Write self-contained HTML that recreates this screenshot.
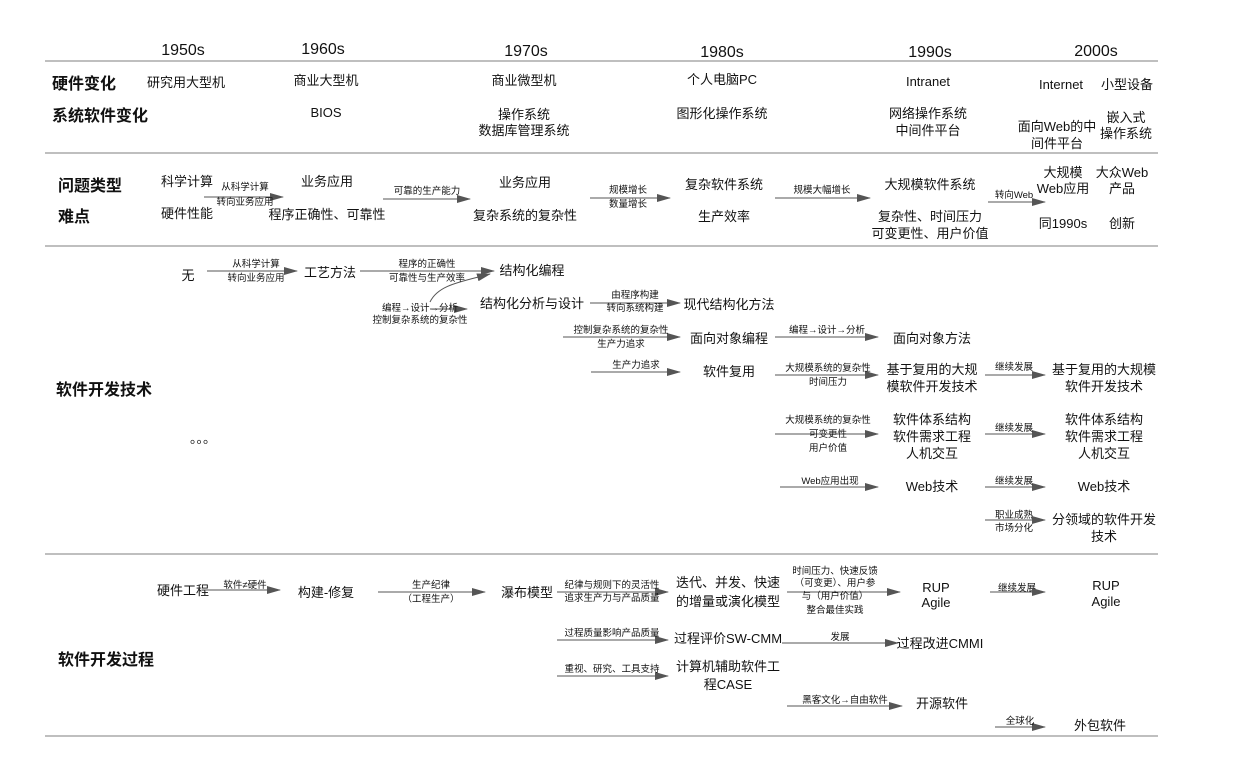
<!DOCTYPE html>
<html><head><meta charset="utf-8"><style>
html,body{margin:0;padding:0;background:#fff;width:1233px;height:766px;overflow:hidden}
svg{display:block}
text{font-family:"Liberation Sans","Noto Sans CJK SC",sans-serif;fill:#111}
.h{font-size:16px;font-weight:bold}
.m{font-size:13px}
.s{font-size:9.5px;fill:#222}
.y{font-size:16px}
</style></head><body>
<svg width="1233" height="766" viewBox="0 0 1233 766">
<defs><marker id="a" markerWidth="14" markerHeight="8" refX="13" refY="4" orient="auto" markerUnits="userSpaceOnUse"><path d="M0,0 L14,4 L0,8 Z" fill="#555"/></marker></defs>
<g stroke="#999" stroke-width="1.2">
<line x1="45" y1="61" x2="1158" y2="61"/><line x1="45" y1="153" x2="1158" y2="153"/>
<line x1="45" y1="246" x2="1158" y2="246"/><line x1="45" y1="554" x2="1158" y2="554"/>
<line x1="45" y1="736" x2="1158" y2="736"/>
</g>
<g text-anchor="middle" class="y">
<text x="183" y="55">1950s</text><text x="323" y="54">1960s</text><text x="526" y="56">1970s</text>
<text x="722" y="57">1980s</text><text x="930" y="57">1990s</text><text x="1096" y="56">2000s</text>
</g>
<g class="h"><text x="52" y="89">硬件变化</text><text x="52" y="121">系统软件变化</text>
<text x="58" y="191">问题类型</text><text x="58" y="222">难点</text>
<text x="56" y="395">软件开发技术</text><text x="58" y="665">软件开发过程</text></g>
<g class="m" text-anchor="middle">
<text x="186" y="87">研究用大型机</text><text x="326" y="85">商业大型机</text><text x="524" y="85">商业微型机</text>
<text x="722" y="84">个人电脑PC</text><text x="928" y="86">Intranet</text><text x="1061" y="89">Internet</text><text x="1127" y="89">小型设备</text>
<text x="326" y="117">BIOS</text><text x="524" y="119">操作系统</text><text x="524" y="135">数据库管理系统</text>
<text x="722" y="118">图形化操作系统</text><text x="928" y="118">网络操作系统</text><text x="928" y="135">中间件平台</text>
<text x="1057" y="131">面向Web的中</text><text x="1057" y="148">间件平台</text><text x="1126" y="122">嵌入式</text><text x="1126" y="138">操作系统</text>
<text x="187" y="186">科学计算</text><text x="187" y="218">硬件性能</text>
<text x="327" y="186">业务应用</text><text x="327" y="219">程序正确性、可靠性</text>
<text x="525" y="187">业务应用</text><text x="525" y="220">复杂系统的复杂性</text>
<text x="724" y="189">复杂软件系统</text><text x="724" y="221">生产效率</text>
<text x="930" y="189">大规模软件系统</text><text x="930" y="221">复杂性、时间压力</text><text x="930" y="238">可变更性、用户价值</text>
<text x="1063" y="177">大规模</text><text x="1063" y="193">Web应用</text><text x="1122" y="177">大众Web</text><text x="1122" y="193">产品</text>
<text x="1063" y="228">同1990s</text><text x="1122" y="228">创新</text>
<text x="188" y="280">无</text><text x="330" y="277">工艺方法</text><text x="532" y="275">结构化编程</text>
<text x="532" y="308">结构化分析与设计</text><text x="729" y="309">现代结构化方法</text>
<text x="729" y="343">面向对象编程</text><text x="932" y="343">面向对象方法</text>
<text x="729" y="376">软件复用</text>
<text x="932" y="374">基于复用的大规</text><text x="932" y="391">模软件开发技术</text>
<text x="1104" y="374">基于复用的大规模</text><text x="1104" y="391">软件开发技术</text>
<text x="932" y="424">软件体系结构</text><text x="932" y="441">软件需求工程</text><text x="932" y="458">人机交互</text>
<text x="1104" y="424">软件体系结构</text><text x="1104" y="441">软件需求工程</text><text x="1104" y="458">人机交互</text>
<text x="932" y="491">Web技术</text><text x="1104" y="491">Web技术</text>
<text x="1104" y="524">分领域的软件开发</text><text x="1104" y="541">技术</text>
<text x="203" y="443">。。。</text>
<text x="183" y="595">硬件工程</text><text x="326" y="597">构建-修复</text><text x="527" y="597">瀑布模型</text>
<text x="728" y="587">迭代、并发、快速</text><text x="728" y="606">的增量或演化模型</text>
<text x="936" y="592">RUP</text><text x="936" y="607">Agile</text><text x="1106" y="590">RUP</text><text x="1106" y="606">Agile</text>
<text x="728" y="643">过程评价SW-CMM</text><text x="940" y="648">过程改进CMMI</text>
<text x="728" y="671">计算机辅助软件工</text><text x="728" y="689">程CASE</text>
<text x="942" y="708">开源软件</text><text x="1100" y="730">外包软件</text>
</g>
<g stroke="#555" stroke-width="1" fill="none" marker-end="url(#a)">
<line x1="204" y1="197" x2="283" y2="197"/><line x1="383" y1="199" x2="470" y2="199"/>
<line x1="590" y1="198" x2="670" y2="198"/><line x1="775" y1="198" x2="870" y2="198"/>
<line x1="988" y1="202" x2="1045" y2="202"/>
<line x1="207" y1="271" x2="297" y2="271"/><line x1="360" y1="271" x2="494" y2="271"/>
<path d="M430,302 C438,285 460,282 490,274"/><line x1="430" y1="309" x2="467" y2="309"/>
<line x1="590" y1="303" x2="680" y2="303"/><line x1="563" y1="337" x2="680" y2="337"/>
<line x1="591" y1="372" x2="680" y2="372"/><line x1="775" y1="337" x2="878" y2="337"/>
<line x1="775" y1="375" x2="878" y2="375"/><line x1="775" y1="434" x2="878" y2="434"/>
<line x1="780" y1="487" x2="878" y2="487"/>
<line x1="985" y1="375" x2="1045" y2="375"/><line x1="985" y1="434" x2="1045" y2="434"/>
<line x1="985" y1="487" x2="1045" y2="487"/><line x1="985" y1="520" x2="1045" y2="520"/>
<line x1="205" y1="590" x2="280" y2="590"/><line x1="378" y1="592" x2="485" y2="592"/>
<line x1="557" y1="592" x2="668" y2="592"/><line x1="557" y1="640" x2="668" y2="640"/>
<line x1="557" y1="676" x2="668" y2="676"/><line x1="787" y1="592" x2="900" y2="592"/>
<line x1="782" y1="643" x2="898" y2="643"/><line x1="787" y1="706" x2="902" y2="706"/>
<line x1="995" y1="727" x2="1045" y2="727"/>
</g>
<g class="s" text-anchor="middle">
<text x="245" y="190">从科学计算</text><text x="245" y="205">转向业务应用</text>
<text x="427" y="194">可靠的生产能力</text>
<text x="628" y="193">规模增长</text><text x="628" y="207">数量增长</text>
<text x="822" y="193">规模大幅增长</text><text x="1014" y="198">转向Web</text>
<text x="256" y="267">从科学计算</text><text x="256" y="281">转向业务应用</text>
<text x="427" y="267">程序的正确性</text><text x="427" y="281">可靠性与生产效率</text>
<text x="420" y="311">编程→设计→分析</text><text x="420" y="323">控制复杂系统的复杂性</text>
<text x="635" y="298">由程序构建</text><text x="635" y="311">转向系统构建</text>
<text x="621" y="333">控制复杂系统的复杂性</text><text x="621" y="347">生产力追求</text>
<text x="636" y="368">生产力追求</text>
<text x="827" y="333">编程→设计→分析</text>
<text x="828" y="371">大规模系统的复杂性</text><text x="828" y="385">时间压力</text>
<text x="828" y="423">大规模系统的复杂性</text><text x="828" y="437">可变更性</text><text x="828" y="451">用户价值</text>
<text x="830" y="484">Web应用出现</text>
<text x="1014" y="370">继续发展</text><text x="1014" y="431">继续发展</text><text x="1014" y="484">继续发展</text>
<text x="1014" y="518">职业成熟</text><text x="1014" y="531">市场分化</text>
<text x="245" y="588">软件≠硬件</text>
<text x="431" y="588">生产纪律</text><text x="431" y="602">（工程生产）</text>
<text x="612" y="588">纪律与规则下的灵活性</text><text x="612" y="601">追求生产力与产品质量</text>
<text x="835" y="574">时间压力、快速反馈</text><text x="835" y="586">（可变更）、用户参</text><text x="835" y="599">与（用户价值）</text><text x="835" y="613">整合最佳实践</text>
<text x="612" y="636">过程质量影响产品质量</text><text x="840" y="640">发展</text>
<text x="612" y="672">重视、研究、工具支持</text>
<text x="845" y="703">黑客文化→自由软件</text>
<text x="1020" y="724">全球化</text>
<text x="1017" y="591">继续发展</text>
</g>
<line x1="990" y1="592" x2="1045" y2="592" stroke="#555" marker-end="url(#a)"/>
</svg>
</body></html>
